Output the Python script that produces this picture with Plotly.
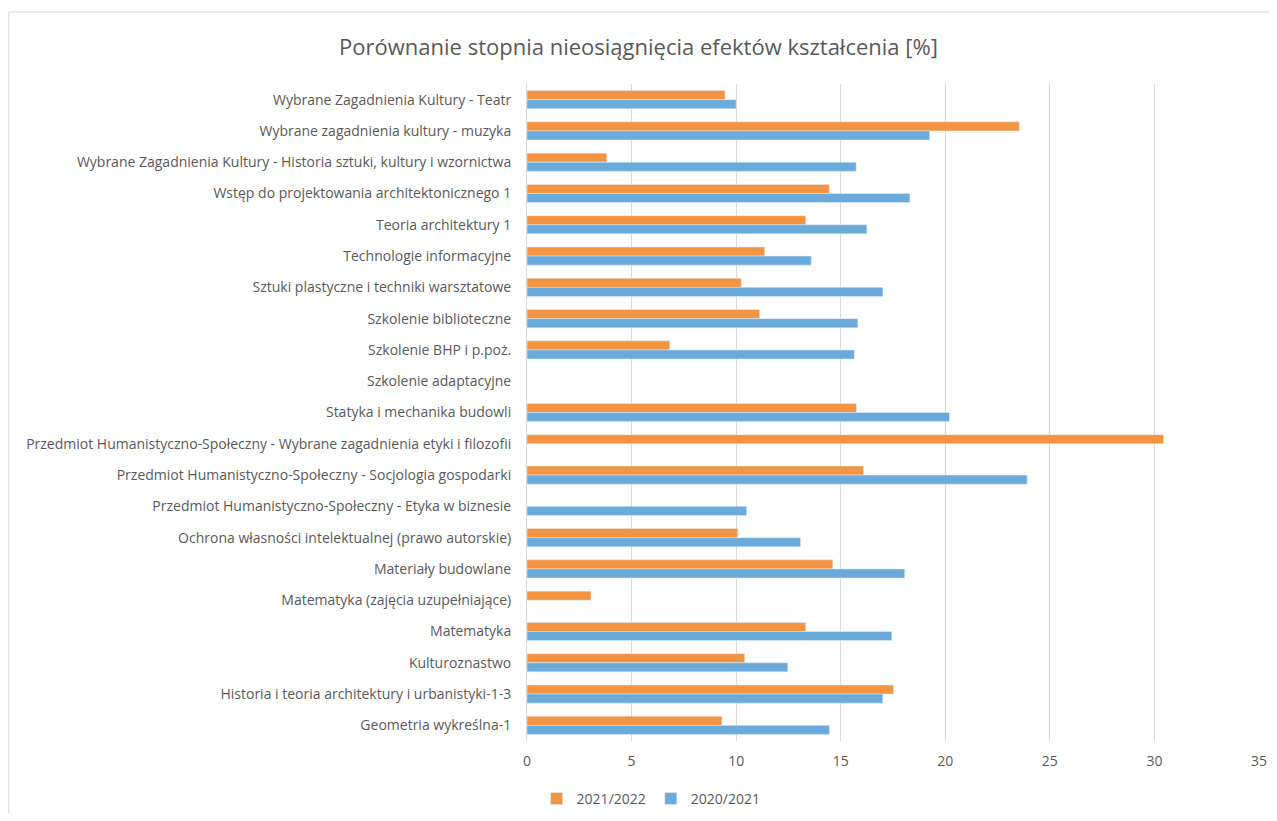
import plotly.graph_objects as go

przedmioty = [
    "Wybrane Zagadnienia Kultury - Teatr",
    "Wybrane zagadnienia kultury - muzyka",
    "Wybrane Zagadnienia Kultury - Historia sztuki, kultury i wzornictwa",
    "Wstęp do projektowania architektonicznego 1",
    "Teoria architektury 1",
    "Technologie informacyjne",
    "Sztuki plastyczne i techniki warsztatowe",
    "Szkolenie biblioteczne",
    "Szkolenie BHP i p.poż.",
    "Szkolenie adaptacyjne",
    "Statyka i mechanika budowli",
    "Przedmiot Humanistyczno-Społeczny - Wybrane zagadnienia etyki i filozofii",
    "Przedmiot Humanistyczno-Społeczny - Socjologia gospodarki",
    "Przedmiot Humanistyczno-Społeczny - Etyka w biznesie",
    "Ochrona własności intelektualnej (prawo autorskie)",
    "Materiały budowlane",
    "Matematyka (zajęcia uzupełniające)",
    "Matematyka",
    "Kulturoznastwo",
    "Historia i teoria architektury i urbanistyki-1-3",
    "Geometria wykreślna-1",
]

rok_2021_2022 = [9.47, 23.54, 3.81, 14.45, 13.33, 11.37, 10.24, 11.12, 6.83, None,
                 15.75, 30.44, 16.09, None, 10.08, 14.62, 3.06, 13.33, 10.41, 17.53, 9.32]
rok_2020_2021 = [10.0, 19.25, 15.74, 18.31, 16.25, 13.59, 17.02, 15.82, 15.65, None,
                 20.2, None, 23.91, 10.5, 13.08, 18.06, None, 17.44, 12.47, 17.01, 14.46]

szary = "#595959"

fig = go.Figure()
fig.add_trace(go.Bar(y=przedmioty, x=rok_2021_2022, orientation="h",
                     name="2021/2022", marker_color="#F29441"))
fig.add_trace(go.Bar(y=przedmioty, x=rok_2020_2021, orientation="h",
                     name="2020/2021", marker_color="#6AABDC"))

# strona ma 8px marginesu, stad 1261x805
fig.update_layout(
    width=1261, height=805,
    margin=dict(l=519, r=10, t=76, b=72),
    paper_bgcolor="white", plot_bgcolor="white",
    font=dict(family="Open Sans", size=14, color=szary),
    title=dict(text="Porównanie stopnia nieosiągnięcia efektów kształcenia [%]",
               x=0.5, xref="container", xanchor="center",
               y=0.9516, yref="container", yanchor="middle",
               font=dict(size=22, color=szary)),
    barmode="group", bargap=0.42, bargroupgap=0,
    legend=dict(orientation="h", x=0.51, xref="container", xanchor="center",
                y=0.0174, yref="container", yanchor="middle",
                font=dict(size=14, color=szary), itemwidth=30),
    showlegend=True,
)
fig.update_xaxes(range=[0, 35], dtick=5, showgrid=True, gridcolor="#D9D9D9",
                 gridwidth=1, zeroline=False, showline=False,
                 ticklabelstandoff=10, automargin=False)
fig.update_yaxes(autorange="reversed", showgrid=False, showline=True,
                 linecolor="#D9D9D9", ticklabelstandoff=12, automargin=False)

# ramka wykresu
fig.add_shape(type="rect", xref="paper", yref="paper",
              x0=-0.708, x1=1.2, y0=-0.3, y1=1.1096,
              line=dict(color="#D9D9D9", width=1), layer="below")

fig.write_html("out.html")
